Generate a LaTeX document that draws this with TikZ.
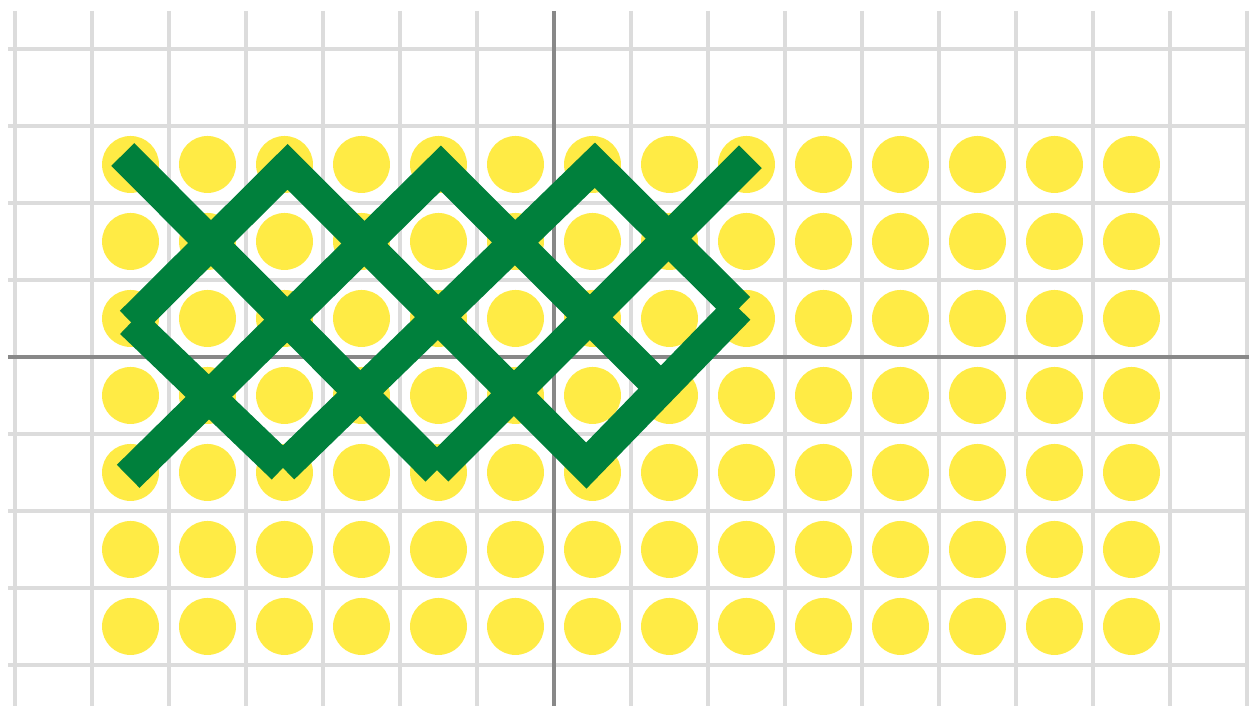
\documentclass[tikz,border=0pt]{standalone}
\usepackage{xcolor}
\usepackage{tikz}
\definecolor{Green}{HTML}{00803C}
\definecolor{Yellow}{HTML}{FFEB45}
\definecolor{GridGray}{HTML}{DCDCDC}
\definecolor{AxisGray}{HTML}{888888}
\begin{document}
\begin{tikzpicture}[
  gridline/.style={draw=GridGray,line width=0.052cm},
  axis/.style={draw=AxisGray,line width=0.045cm},
  dot/.style={fill=Yellow},
  stitch/.style={draw=Green,line width=0.42cm,line cap=butt,line join=miter}
]
\useasboundingbox (-7.195,-4.532) rectangle (9.026,4.636);
\foreach \x in {-7,...,9}\draw[gridline] (\x,4.494)--(\x,-4.532);
\foreach \y in {-4,...,4}\draw[gridline] (-7.09,\y)--(9.026,\y);
\draw[axis] (-7.09,0)--(9.026,0);
\draw[axis] (0,4.494)--(0,-4.532);
\foreach \i in {-6,...,7}\foreach \j in {-4,...,2}\fill[dot] (\i+0.5,\j+0.5) circle (0.37);
\coordinate (endNW) at (-5.6,2.63);
\coordinate (endNE) at (2.55,2.6);
\coordinate (endSW) at (-5.53,-1.55);
\coordinate (top1) at (-3.46,2.47);
\coordinate (top2) at (-1.47,2.45);
\coordinate (top3) at (0.53,2.49);
\coordinate (bot1) at (-3.52,-1.44);
\coordinate (bot2) at (-1.52,-1.47);
\coordinate (bot3) at (0.42,-1.41);
\coordinate (left) at (-5.49,0.45);
\coordinate (right) at (2.4,0.63);
\coordinate (tee) at (1.40,-0.42);
\draw[stitch] (endNW)--(bot2);
\draw[stitch] (bot2)--(endNE);
\draw[stitch] (left)--(top1)--(bot3)--(right);
\draw[stitch] (right)--(top3)--(bot1);
\draw[stitch] (bot1)--(left);
\draw[stitch] (endSW)--(top2)--(tee);
\end{tikzpicture}
\end{document}
